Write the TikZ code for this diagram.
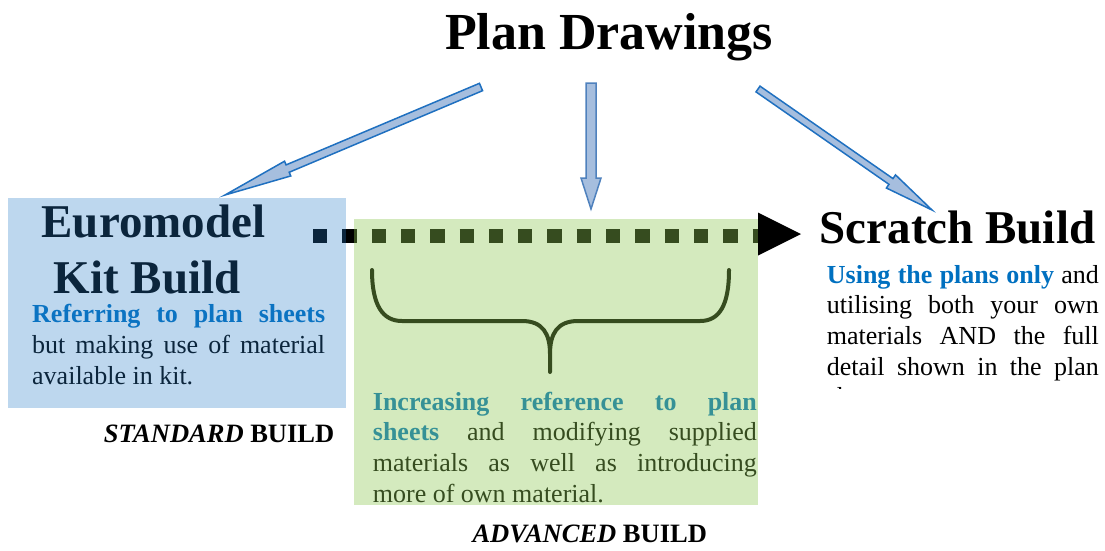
\documentclass[tikz,border=0pt]{standalone}
\usepackage{fontspec}
\setmainfont{Liberation Serif}
\usetikzlibrary{calc}

\definecolor{planblue}{RGB}{0,112,192}
\definecolor{arrowfill}{RGB}{166,190,222}
\definecolor{arrowline}{RGB}{31,112,192}
\definecolor{midline}{RGB}{79,129,189}
\definecolor{kitfill}{RGB}{37,123,200}
\definecolor{advfill}{RGB}{142,200,84}

\tikzset{
  titletext/.style={font=\bfseries\fontsize{52}{60}\selectfont, inner sep=0pt, anchor=base},
  headtext/.style={font=\bfseries\fontsize{47}{56}\selectfont, inner sep=0pt, anchor=base},
  bodytext/.style={font=\fontsize{26}{30.7}\selectfont, inner sep=0pt, anchor=base west, align=justify},
  buildtext/.style={font=\bfseries\fontsize{26.5}{30}\selectfont, inner sep=0pt, anchor=base},
  fatarrow/.style={fill=arrowfill, draw=arrowline, line width=1.5pt, line join=miter},
  dotline/.style={line width=14pt, dash pattern=on 14.3pt off 15pt},
  bracestyle/.style={line width=4pt, line cap=round},
  kitbox/.style={fill=kitfill, fill opacity=0.3, inner sep=0pt, anchor=north west},
  advbox/.style={fill=advfill, fill opacity=0.38, inner sep=0pt, anchor=north west}
}

% block arrow: [style]{tail}{tip}{shaft half width}{head half width}{head length}
\newcommand{\blockarrow}[6][]{%
  \coordinate (ba-base) at ($(#3)!#6!(#2)$);
  \filldraw[fatarrow,#1] ($(#2)!#4!90:(#3)$) -- ($(ba-base)!#4!90:(#3)$)
    -- ($(ba-base)!#5!90:(#3)$) -- (#3) -- ($(ba-base)!#5!-90:(#3)$)
    -- ($(ba-base)!#4!-90:(#3)$) -- ($(#2)!#4!-90:(#3)$) -- cycle;
}

\begin{document}
\begin{tikzpicture}[x=1pt, y=-1pt]
    \useasboundingbox (0,0) rectangle (1105,550);

    % Title
    \node[titletext] (plan) at (609,49.3) {Plan Drawings};

    % Arrows from the title
    \coordinate (tail-l) at (481,87);
    \coordinate (tip-l) at (225,195);
    \coordinate (tail-m) at (591,83);
    \coordinate (tip-m) at (591,209);
    \coordinate (tail-r) at (758,89);
    \coordinate (tip-r) at (932,210);
    \blockarrow{tail-l}{tip-l}{4pt}{8pt}{68pt}
    \blockarrow[draw=midline]{tail-m}{tip-m}{5pt}{10pt}{31pt}
    \blockarrow{tail-r}{tip-r}{3.5pt}{8pt}{50pt}

    % Kit build
    \node[headtext] (euro) at (153.5,237) {Euromodel};
    \node[headtext] (kit) at (147,293) {Kit Build};
    \node[bodytext, text width=293pt] (kittext) at (32,322.7)
      {{\color{planblue}\bfseries Referring to plan sheets}\linebreak
       but making use of material\linebreak available in kit.};
    \node[buildtext] (std) at (219,442.3) {\textit{STANDARD} BUILD};

    % Dotted arrow to scratch build
    \coordinate (dots-a) at (313,236);
    \coordinate (dots-b) at (758,236);
    \draw[dotline] (dots-a) -- (dots-b);
    \fill (758,212.5) -- (801,234) -- (758,255.5) -- cycle;

    % Advanced build
    \draw[bracestyle] (372,270) .. controls (372,306) and (383,321) .. (402,321)
      -- (522,321) .. controls (543,321) and (550,334) .. (550,354) -- (550,372)
      (550,354) .. controls (550,334) and (557,321) .. (578,321)
      -- (700,321) .. controls (719,321) and (729,306) .. (729,270);
    \node[bodytext, text width=384pt] (advtext) at (372.7,410)
      {{\color{planblue}\bfseries Increasing reference to plan\linebreak sheets}
       and modifying supplied\linebreak materials as well as introducing\linebreak
       more of own material.};
    \node[buildtext] (adv) at (589.7,542.3) {\textit{ADVANCED} BUILD};

    % Scratch build
    \node[headtext, anchor=base west] (scratch) at (819.5,243) {Scratch Build};
    \begin{scope}
      \clip (800,250) rectangle (1105,388.8);
      \node[bodytext, text width=272pt] (scratchtext) at (826.7,283)
        {{\color{planblue}\bfseries Using the plans only} and\linebreak
         utilising both your own\linebreak materials AND the full\linebreak
         detail shown in the plan\linebreak sheets.};
    \end{scope}

    % Shaded boxes on top
    \node[kitbox, minimum width=338pt, minimum height=210pt] (kitbox) at (8,198) {};
    \node[advbox, minimum width=404pt, minimum height=286pt] (advbox) at (354,219) {};
\end{tikzpicture}
\end{document}
